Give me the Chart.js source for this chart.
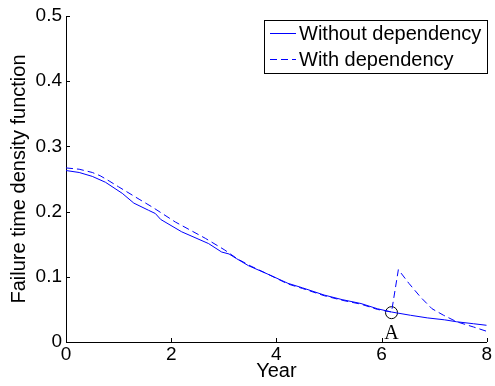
<!DOCTYPE html>
<html>
<head>
<meta charset="utf-8">
<script src="https://cdn.jsdelivr.net/npm/chart.js@4"></script>
<style>
    body { margin: 0; background: #fff; }
    #wrap { width: 495px; height: 386px; position: relative; }
</style>
</head>
<body>
<div id="wrap"><canvas id="grafico"></canvas></div>
<script>
// ── DATOS ─────────────────────────────────────────────
const seriesNames = ['Without dependency', 'With dependency'];

const yearsWithout = [0, 0.25, 0.5, 0.75, 1.07, 1.29, 1.57, 1.7, 1.8, 2.2, 2.71, 2.96, 3.1, 3.24, 3.47, 3.84, 4.22, 4.5, 4.91, 5.25, 5.61, 5.92, 6.19, 6.55, 6.87, 7.2, 7.43, 7.75, 8.0];
const densWithout  = [0.263, 0.260, 0.254, 0.245, 0.228, 0.213, 0.202, 0.197, 0.188, 0.169, 0.151, 0.138, 0.135, 0.128, 0.117, 0.104, 0.090, 0.083, 0.072, 0.065, 0.059, 0.051, 0.046, 0.041, 0.037, 0.034, 0.031, 0.028, 0.0256];

const yearsWith = [0, 0.25, 0.5, 0.65, 0.82, 1.0, 1.39, 1.64, 2.08, 2.65, 3.02, 3.25, 3.5, 3.84, 4.22, 4.5, 4.91, 5.25, 5.61, 5.92, 6.19, 6.32, 6.52, 6.74, 6.96, 7.18, 7.43, 7.75, 8.0];
const densWith  = [0.267, 0.265, 0.260, 0.255, 0.247, 0.238, 0.219, 0.207, 0.184, 0.159, 0.141, 0.128, 0.117, 0.104, 0.089, 0.082, 0.071, 0.064, 0.058, 0.050, 0.046, 0.111, 0.090, 0.069, 0.051, 0.041, 0.031, 0.023, 0.0164];

const markYear = [6.19];
const markDens = [0.045];
const markText = 'A';

const xTickValues = [0, 2, 4, 6, 8];
const xTickLabels = ['0', '2', '4', '6', '8'];
const yTickValues = [0, 0.1, 0.2, 0.3, 0.4, 0.5];
const yTickLabels = ['0', '0.1', '0.2', '0.3', '0.4', '0.5'];

const SANS  = '"Liberation Sans", Arial, sans-serif';
const SERIF = '"Liberation Serif", "Times New Roman", serif';
const AZUL  = '#0000ff';

function puntos(xs, ys) { return xs.map((x, i) => ({ x, y: ys[i] })); }

// ticks hacia dentro + marca "A" + leyenda con recuadro
const extras = {
    id: 'extras',
    afterDraw(chart) {
        const { ctx, chartArea: a, scales: { x, y } } = chart;
        ctx.save();
        ctx.strokeStyle = '#000';
        ctx.lineWidth = 1;
        ctx.beginPath();
        xTickValues.forEach(v => {
            const px = Math.round(x.getPixelForValue(v)) + 0.5;
            ctx.moveTo(px, a.bottom); ctx.lineTo(px, a.bottom - 4);
        });
        yTickValues.forEach(v => {
            const py = Math.round(y.getPixelForValue(v)) + 0.5;
            ctx.moveTo(a.left, py); ctx.lineTo(a.left + 4, py);
        });
        ctx.stroke();

        ctx.fillStyle = '#000';
        ctx.font = '20px ' + SERIF;
        ctx.textAlign = 'center';
        ctx.textBaseline = 'alphabetic';
        ctx.fillText(markText, x.getPixelForValue(markYear[0]), y.getPixelForValue(markDens[0]) + 26);

        const bx = 264.5, by = 20.5, bw = 223, bh = 53;
        ctx.fillStyle = '#fff';
        ctx.fillRect(bx, by, bw, bh);
        ctx.strokeStyle = '#000';
        ctx.strokeRect(bx, by, bw, bh);
        ctx.font = '20px ' + SANS;
        ctx.textAlign = 'left';
        ctx.textBaseline = 'middle';
        chart.data.datasets.slice(0, 2).forEach((ds, i) => {
            const ly = 33.5 + i * 26;
            ctx.strokeStyle = ds.borderColor;
            ctx.setLineDash(ds.borderDash || []);
            ctx.beginPath();
            ctx.moveTo(270, ly); ctx.lineTo(296, ly);
            ctx.stroke();
            ctx.setLineDash([]);
            ctx.fillStyle = '#000';
            ctx.fillText(ds.label, 299, ly + 1);
        });
        ctx.restore();
    }
};

new Chart(document.getElementById('grafico'), {
    type: 'line',
    data: {
        datasets: [
            {
                label: seriesNames[0],
                data: puntos(yearsWithout, densWithout),
                borderColor: AZUL,
                borderWidth: 1,
                pointRadius: 0,
                tension: 0,
            },
            {
                label: seriesNames[1],
                data: puntos(yearsWith, densWith),
                borderColor: AZUL,
                borderWidth: 1,
                borderDash: [7, 4],
                pointRadius: 0,
                tension: 0,
            },
            {
                label: 'mark',
                data: puntos(markYear, markDens),
                showLine: false,
                pointRadius: 6,
                pointBorderColor: '#000',
                pointBackgroundColor: 'rgba(0,0,0,0)',
                pointBorderWidth: 1,
            }
        ]
    },
    options: {
        responsive: true,
        maintainAspectRatio: false,
        animation: false,
        layout: { padding: { top: 16, right: 5, left: 0, bottom: 0 } },
        plugins: { legend: { display: false }, tooltip: { enabled: false } },
        scales: {
            x: {
                type: 'linear',
                min: 0, max: 8,
                afterBuildTicks: s => { s.ticks = xTickValues.map(v => ({ value: v })); },
                afterFit: s => { s.height = 44; },
                grid: { display: false, drawTicks: false },
                border: { display: true, color: '#000', width: 1 },
                ticks: {
                    padding: 3,
                    color: '#000',
                    font: { family: SANS, size: 19, lineHeight: 1 },
                    maxRotation: 0,
                    callback: (v, i) => xTickLabels[i],
                },
                title: {
                    display: true, text: 'Year', color: '#000',
                    font: { family: SANS, size: 20, lineHeight: 1 },
                    padding: { top: 0, bottom: 5 },
                },
            },
            y: {
                min: 0, max: 0.5,
                afterBuildTicks: s => { s.ticks = yTickValues.map(v => ({ value: v })); },
                afterFit: s => { s.width = 66; },
                grid: { display: false, drawTicks: false },
                border: { display: true, color: '#000', width: 1 },
                ticks: {
                    padding: 4,
                    color: '#000',
                    font: { family: SANS, size: 19, lineHeight: 1 },
                    callback: (v, i) => yTickLabels[i],
                },
                title: {
                    display: true, text: 'Failure time density function', color: '#000',
                    font: { family: SANS, size: 20, lineHeight: 1 },
                    padding: { top: 9, bottom: 0 },
                },
            }
        }
    },
    plugins: [extras]
});
</script>
</body>
</html>
